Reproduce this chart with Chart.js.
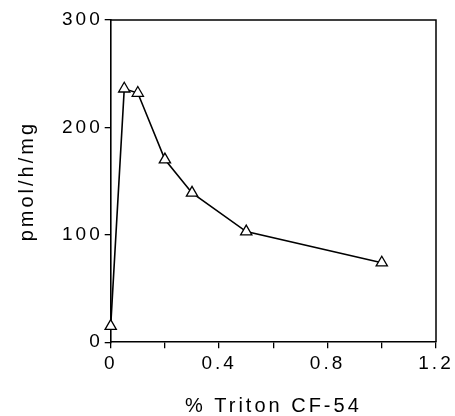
<!DOCTYPE html>
<html>
<head>
<meta charset="utf-8">
<script src="https://cdn.jsdelivr.net/npm/chart.js@4/dist/chart.umd.min.js"></script>
<style>
  html, body { margin: 0; padding: 0; background: #fff; }
  #wrap { width: 455px; height: 416px; }
</style>
</head>
<body>
<div id="wrap"><canvas id="triton" width="455" height="416"></canvas></div>
<script>
// % Triton CF-54 vs activity
const tritonPct = [0, 0.05, 0.1, 0.2, 0.3, 0.5, 1.0];
const activity = [15, 236, 232, 170, 139, 103, 74];
const xLabelTicks = [0, 0.4, 0.8, 1.2];
const yTicks = [0, 100, 200, 300];

const FONT = "'Liberation Sans', Arial, sans-serif";

// draw top/right frame lines and widen letters like the original
const framePlugin = {
    id: "frame",
    beforeDraw(chart) {
        chart.ctx.letterSpacing = "3px";
    },
    afterDraw(chart) {
        const { ctx, chartArea: a } = chart;
        ctx.save();
        ctx.strokeStyle = "#000";
        ctx.lineWidth = 1.5;
        ctx.beginPath();
        ctx.moveTo(a.left, a.top);
        ctx.lineTo(a.right, a.top);
        ctx.lineTo(a.right, a.bottom);
        ctx.stroke();
        ctx.restore();
    }
};

const pts = tritonPct.map((x, i) => ({ x: x, y: activity[i] }));

new Chart(document.getElementById("triton"), {
    type: "line",
    data: {
        datasets: [{
            data: pts,
            borderColor: "#000",
            borderWidth: 1.6,
            tension: 0,
            pointStyle: "triangle",
            pointRadius: 6.5,
            pointBackgroundColor: "#fff",
            pointBorderColor: "#000",
            pointBorderWidth: 1.3,
            clip: false
        }]
    },
    options: {
        responsive: false,
        animation: false,
        events: [],
        layout: { padding: { left: 15, right: 19, top: 20, bottom: -2 } },
        plugins: { legend: { display: false }, tooltip: { enabled: false } },
        scales: {
            x: {
                type: "linear",
                min: 0,
                max: 1.2,
                border: { color: "#000", width: 1.6 },
                grid: { drawOnChartArea: false, color: "#000", tickLength: 6, lineWidth: 1.3 },
                ticks: {
                    stepSize: 0.2,
                    color: "#000",
                    maxRotation: 0,
                    autoSkip: false,
                    padding: 4,
                    font: { family: FONT, size: 19 },
                    callback: (v) => {
                        const r = Math.round(v * 10) / 10;
                        return xLabelTicks.includes(r) ? String(r) : "";
                    }
                },
                title: {
                    display: true,
                    text: "% Triton CF-54",
                    color: "#000",
                    font: { family: FONT, size: 20 },
                    padding: { top: 15, bottom: 0 }
                }
            },
            y: {
                type: "linear",
                min: 0,
                max: 300,
                border: { color: "#000", width: 1.6 },
                grid: { drawOnChartArea: false, color: "#000", tickLength: 6, lineWidth: 1.3 },
                afterBuildTicks: (s) => { s.ticks = yTicks.map(v => ({ value: v })); },
                ticks: {
                    color: "#000",
                    padding: 2,
                    font: { family: FONT, size: 19 }
                },
                title: {
                    display: true,
                    text: "pmol/h/mg",
                    color: "#000",
                    font: { family: FONT, size: 20 },
                    padding: { top: 0, bottom: 30 }
                }
            }
        }
    },
    plugins: [framePlugin]
});
</script>
</body>
</html>
